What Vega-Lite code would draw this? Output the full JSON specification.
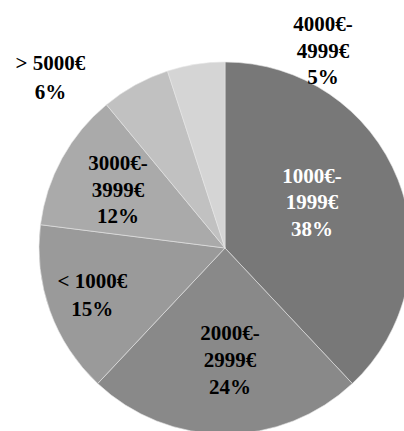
{
  "$schema": "https://vega.github.io/schema/vega-lite/v6.json",
  "autosize": {"type": "none"},
  "width": 358,
  "height": 366,
  "padding": {"left": 46, "top": 65, "right": 0, "bottom": 0},
  "background": "white",
  "data": {
    "values": [
      {"category": "1000€-1999€", "label": "1000€-\n1999€", "value": 38},
      {"category": "2000€-2999€", "label": "2000€-\n2999€", "value": 24},
      {"category": "< 1000€", "label": "< 1000€", "value": 15},
      {"category": "3000€-3999€", "label": "3000€-\n3999€", "value": 12},
      {"category": "> 5000€", "label": "> 5000€", "value": 6},
      {"category": "4000€-4999€", "label": "4000€-\n4999€", "value": 5}
    ]
  },
  "transform": [
    {"window": [{"op": "row_number", "as": "idx"}]},
    {"calculate": "datum.label + '\\n' + datum.value + '%'", "as": "txt"}
  ],
  "encoding": {
    "theta": {"field": "value", "type": "quantitative", "stack": true},
    "order": {"field": "idx", "type": "quantitative"}
  },
  "layer": [
    {
      "mark": {"type": "arc", "outerRadius": 186, "stroke": "#e6e6e6", "strokeWidth": 0.6},
      "encoding": {
        "color": {
          "field": "category",
          "type": "nominal",
          "scale": {
            "domain": ["1000€-1999€", "2000€-2999€", "< 1000€", "3000€-3999€", "> 5000€", "4000€-4999€"],
            "range": ["#787878", "#898989", "#9a9a9a", "#aaaaaa", "#c1c1c1", "#d5d5d5"]
          },
          "legend": null
        }
      }
    },
    {
      "mark": {"type": "text", "radius": 98, "dx": -4, "dy": -35, "font": "Liberation Serif", "fontWeight": "bold", "fontSize": 21, "lineHeight": 26.5, "lineBreak": "\n", "fill": "white", "align": "center", "baseline": "middle"},
      "encoding": {
        "detail": {"field": "category", "type": "nominal"},
        "text": {"condition": {"test": "datum.category === '1000€-1999€'", "field": "txt"}, "value": ""}
      }
    },
    {
      "mark": {"type": "text", "radius": 111, "dx": 5, "dy": -25, "font": "Liberation Serif", "fontWeight": "bold", "fontSize": 21, "lineHeight": 27, "lineBreak": "\n", "fill": "black", "align": "center", "baseline": "middle"},
      "encoding": {
        "detail": {"field": "category", "type": "nominal"},
        "text": {"condition": {"test": "datum.category === '2000€-2999€'", "field": "txt"}, "value": ""}
      }
    },
    {
      "mark": {"type": "text", "radius": 141, "dy": -14, "font": "Liberation Serif", "fontWeight": "bold", "fontSize": 21, "lineHeight": 28, "lineBreak": "\n", "fill": "black", "align": "center", "baseline": "middle"},
      "encoding": {
        "detail": {"field": "category", "type": "nominal"},
        "text": {"condition": {"test": "datum.category === '< 1000€'", "field": "txt"}, "value": ""}
      }
    },
    {
      "mark": {"type": "text", "radius": 122, "dy": -25, "font": "Liberation Serif", "fontWeight": "bold", "fontSize": 21, "lineHeight": 26.5, "lineBreak": "\n", "fill": "black", "align": "center", "baseline": "middle"},
      "encoding": {
        "detail": {"field": "category", "type": "nominal"},
        "text": {"condition": {"test": "datum.category === '3000€-3999€'", "field": "txt"}, "value": ""}
      }
    },
    {
      "mark": {"type": "text", "radius": 186, "dx": -85, "dy": -21, "font": "Liberation Serif", "fontWeight": "bold", "fontSize": 21, "lineHeight": 29, "lineBreak": "\n", "fill": "black", "align": "center", "baseline": "middle"},
      "encoding": {
        "detail": {"field": "category", "type": "nominal"},
        "text": {"condition": {"test": "datum.category === '> 5000€'", "field": "txt"}, "value": ""}
      }
    },
    {
      "mark": {"type": "text", "radius": 186, "dx": 127, "dy": -39, "font": "Liberation Serif", "fontWeight": "bold", "fontSize": 21, "lineHeight": 26.5, "lineBreak": "\n", "fill": "black", "align": "center", "baseline": "middle"},
      "encoding": {
        "detail": {"field": "category", "type": "nominal"},
        "text": {"condition": {"test": "datum.category === '4000€-4999€'", "field": "txt"}, "value": ""}
      }
    }
  ],
  "config": {"view": {"stroke": null}}
}
